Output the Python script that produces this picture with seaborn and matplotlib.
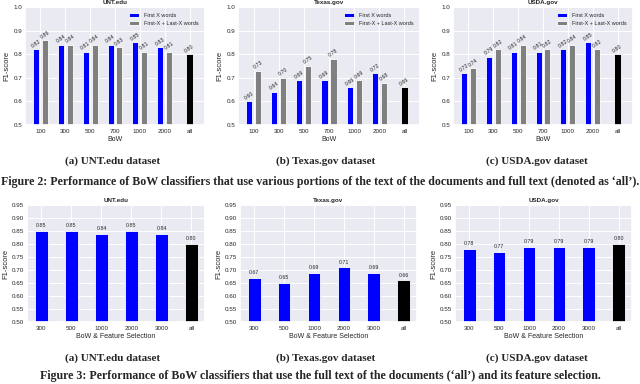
import numpy as np
import pandas as pd
import matplotlib
matplotlib.use("Agg")
import matplotlib.pyplot as plt
import seaborn as sns

# Figure 2 data: BoW on first X words vs first X + last X words
bow_sizes = ["100", "300", "500", "700", "1000", "2000"]
top_order = bow_sizes + ["all"]
series_names = ["First X words", "First-X + Last-X words"]

unt_first = [0.82, 0.84, 0.81, 0.84, 0.85, 0.83]
unt_last = [0.86, 0.84, 0.84, 0.83, 0.81, 0.81]
unt_all = 0.80
texas_first = [0.60, 0.64, 0.69, 0.69, 0.66, 0.72]
texas_last = [0.73, 0.70, 0.75, 0.78, 0.69, 0.68]
texas_all = 0.66
usda_first = [0.72, 0.79, 0.81, 0.81, 0.82, 0.85]
usda_last = [0.74, 0.82, 0.84, 0.82, 0.84, 0.82]
usda_all = 0.80

# Figure 3 data: feature selection on full text
fs_sizes = ["300", "500", "1000", "2000", "3000"]
fs_order = fs_sizes + ["all"]
unt_fs = [0.85, 0.85, 0.84, 0.85, 0.84]
texas_fs = [0.67, 0.65, 0.69, 0.71, 0.69]
usda_fs = [0.78, 0.77, 0.79, 0.79, 0.79]

titles = ["UNT.edu", "Texas.gov", "USDA.gov"]
sub_captions = ["(a) UNT.edu dataset", "(b) Texas.gov dataset", "(c) USDA.gov dataset"]

sns.set_theme(style="darkgrid")
plt.rcParams["font.family"] = ["Liberation Sans", "DejaVu Sans"]

W, H = 640, 384
fig = plt.figure(figsize=(6.4, 3.84), dpi=100)


def rect(x0, x1, y0, y1):
    return [x0 / W, 1 - y1 / H, (x1 - x0) / W, (y1 - y0) / H]


def style_axes(ax, title, xlabel):
    ax.set_title(title, fontsize=4.5, fontweight="bold", pad=2)
    ax.set_xlabel(xlabel, fontsize=5, labelpad=1.5)
    ax.set_ylabel("F1-score", fontsize=5.5, labelpad=2)
    ax.tick_params(axis="x", labelsize=4.5, pad=3, length=0)
    ax.tick_params(axis="y", labelsize=4.5, pad=2, length=0)
    ax.grid(True, color="white", linewidth=0.7)
    ax.set_axisbelow(True)


def draw_top(ax, title, first, last, full):
    df = pd.DataFrame({
        "BoW": bow_sizes * 2,
        "F1": first + last,
        "kind": [series_names[0]] * len(first) + [series_names[1]] * len(last),
    })
    sns.barplot(data=df, x="BoW", y="F1", hue="kind", order=top_order,
                hue_order=series_names, palette=["blue", "grey"], saturation=1,
                width=0.72, gap=0.33, edgecolor="white", linewidth=0.6,
                errorbar=None, ax=ax)
    sns.barplot(x=["all"], y=[full], order=top_order, color="black",
                saturation=1, width=0.26, edgecolor="white", linewidth=0.6,
                errorbar=None, ax=ax)
    for c in ax.containers:
        ax.bar_label(c, fmt="%.2f", rotation=35, fontsize=3.8, padding=0.5)
    ax.set_ylim(0.5, 1.0)
    ax.set_yticks(np.arange(0.5, 1.01, 0.1))
    ax.set_yticklabels([f"{v:.1f}" for v in np.arange(0.5, 1.01, 0.1)])
    ax.set_xlim(-0.62, 6.62)
    sns.move_legend(ax, "upper right", title=None, frameon=False, fontsize=4,
                    handlelength=1.9, handleheight=0.75, handletextpad=0.9,
                    borderaxespad=0.7, labelspacing=0.55)
    style_axes(ax, title, "BoW")


def draw_bottom(ax, title, vals, full):
    sns.barplot(x=fs_sizes, y=vals, order=fs_order, color="blue", saturation=1,
                width=0.42, edgecolor="white", linewidth=0.6, errorbar=None, ax=ax)
    sns.barplot(x=["all"], y=[full], order=fs_order, color="black", saturation=1,
                width=0.42, edgecolor="white", linewidth=0.6, errorbar=None, ax=ax)
    for c in ax.containers:
        ax.bar_label(c, fmt="%.2f", fontsize=3.8, padding=2)
    ax.set_ylim(0.5, 0.95)
    ticks = np.arange(0.5, 0.951, 0.05)
    ax.set_yticks(ticks)
    ax.set_yticklabels([f"{v:.2f}" for v in ticks])
    ax.set_xlim(-0.48, 5.45)
    style_axes(ax, title, "BoW & Feature Selection")


top_rects = [rect(25, 205, 7, 125), rect(238, 420, 7, 125), rect(453, 633, 7, 125)]
bottom_rects = [rect(27, 205, 205, 322), rect(240, 417, 205, 322), rect(455, 632, 205, 322)]

top_data = [(unt_first, unt_last, unt_all),
            (texas_first, texas_last, texas_all),
            (usda_first, usda_last, usda_all)]
bottom_data = [(unt_fs, unt_all), (texas_fs, texas_all), (usda_fs, usda_all)]

for i in range(3):
    ax = fig.add_axes(top_rects[i])
    f, l, a = top_data[i]
    draw_top(ax, titles[i], f, l, a)

for i in range(3):
    ax = fig.add_axes(bottom_rects[i])
    v, a = bottom_data[i]
    draw_bottom(ax, titles[i], v, a)

# captions
serif = ["Liberation Serif", "DejaVu Serif"]
cap_x = [113, 326, 537]
for i in range(3):
    fig.text(cap_x[i] / W, 1 - 161 / H, sub_captions[i], ha="center", va="center",
             fontsize=8, fontweight="bold", family=serif)
    fig.text(cap_x[i] / W, 1 - 358 / H, sub_captions[i], ha="center", va="center",
             fontsize=8, fontweight="bold", family=serif)

fig.text(0.5, 1 - 182 / H,
         "Figure 2: Performance of BoW classifiers that use various portions of the text "
         "of the documents and full text (denoted as \u2018all\u2019).",
         ha="center", va="center", fontsize=8.6, fontweight="bold", family=serif)
fig.text(0.5, 1 - 376 / H,
         "Figure 3: Performance of BoW classifiers that use the full text of the documents "
         "(\u2018all\u2019) and its feature selection.",
         ha="center", va="center", fontsize=8.6, fontweight="bold", family=serif)

fig.savefig("out.png", dpi=100)
